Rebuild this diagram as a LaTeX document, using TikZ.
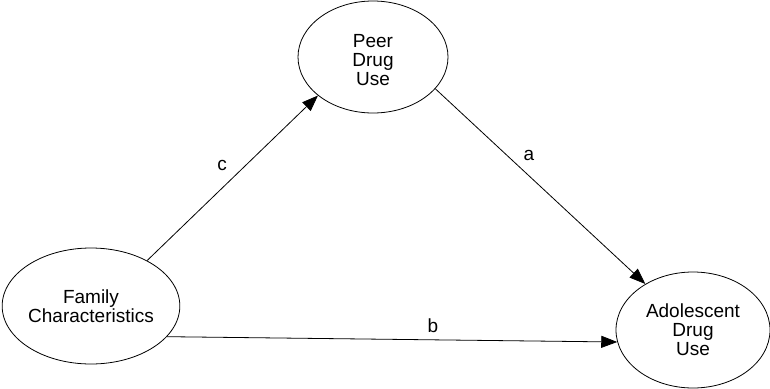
\documentclass[tikz,border=0pt]{standalone}
\usepackage{fontspec}
\setmainfont{Liberation Sans}
\usetikzlibrary{shapes.geometric,arrows.meta}
\begin{document}
\begin{tikzpicture}[x=1pt,y=-1pt,
  ell/.style={draw,ellipse,inner sep=0pt,align=center,font=\fontsize{19}{19}\selectfont,line width=0.8pt},
  conn/.style={-{Triangle[length=16pt,width=12pt]},line width=0.8pt},
  lbl/.style={font=\fontsize{19}{19}\selectfont}]
\useasboundingbox (0,0) rectangle (770,388);
\node[ell,minimum width=170pt,minimum height=116pt] (fam) at (91,306) {Family\\Characteristics};
\node[ell,minimum width=150pt,minimum height=112pt] (peer) at (373,57) {\raisebox{-6pt}[\height][\depth]{\begin{tabular}{@{}c@{}}Peer\\Drug\\Use\end{tabular}}};
\node[ell,minimum width=154pt,minimum height=116pt] (ado) at (693,330) {Adolescent\\Drug\\Use};
\draw[conn] (fam.39) -- (peer.215);
\draw[conn] (peer.333) -- (ado.136);
\draw[conn] (fam.-22.7) -- (ado.189);
\node[lbl] (lc) at (222,165) {c};
\node[lbl] (la) at (529,155) {a};
\node[lbl] (lb) at (433,326) {b};
\end{tikzpicture}
\end{document}
